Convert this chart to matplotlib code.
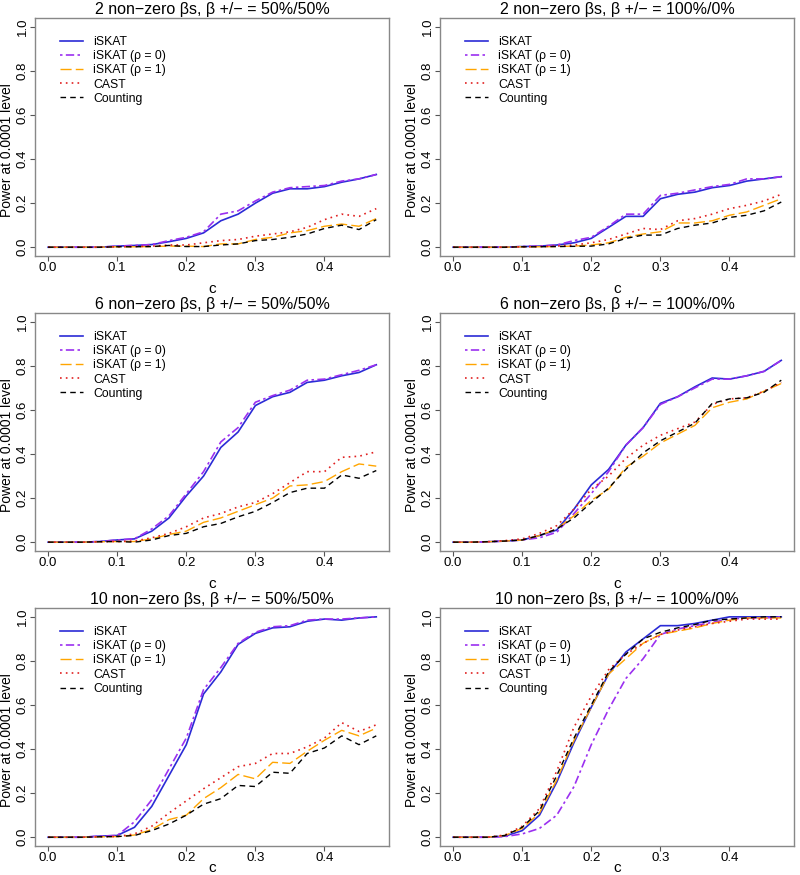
import matplotlib.pyplot as plt
import numpy as np

plt.rcParams['font.family'] = ['Liberation Sans', 'DejaVu Sans']

# c 取值 0 ~ 0.475
c = np.arange(20) * 0.025

titles = ['2 non\u2212zero \u03b2s, \u03b2 +/\u2212 = 50%/50%',
          '2 non\u2212zero \u03b2s, \u03b2 +/\u2212 = 100%/0%',
          '6 non\u2212zero \u03b2s, \u03b2 +/\u2212 = 50%/50%',
          '6 non\u2212zero \u03b2s, \u03b2 +/\u2212 = 100%/0%',
          '10 non\u2212zero \u03b2s, \u03b2 +/\u2212 = 50%/50%',
          '10 non\u2212zero \u03b2s, \u03b2 +/\u2212 = 100%/0%']

methods = ['iSKAT', 'iSKAT (\u03c1 = 0)', 'iSKAT (\u03c1 = 1)', 'CAST', 'Counting']

# 2 non-zero, 50/50
p1_iskat = [0, 0, 0, 0, 0.005, 0.008, 0.012, 0.025, 0.04, 0.065, 0.12, 0.15, 0.2, 0.245, 0.265, 0.265, 0.275, 0.295, 0.31, 0.33]
p1_rho0 = [0, 0, 0, 0, 0.005, 0.008, 0.012, 0.03, 0.045, 0.07, 0.15, 0.165, 0.21, 0.25, 0.27, 0.275, 0.28, 0.3, 0.31, 0.33]
p1_rho1 = [0, 0, 0, 0, 0.002, 0.002, 0.003, 0.005, 0.005, 0.003, 0.015, 0.015, 0.035, 0.045, 0.065, 0.075, 0.095, 0.105, 0.095, 0.13]
p1_cast = [0, 0, 0, 0, 0.002, 0.003, 0.005, 0.01, 0.01, 0.02, 0.03, 0.035, 0.05, 0.06, 0.07, 0.09, 0.125, 0.15, 0.14, 0.175]
p1_count = [0, 0, 0, 0, 0.002, 0.002, 0.003, 0.008, 0.003, 0.003, 0.01, 0.015, 0.03, 0.035, 0.045, 0.06, 0.085, 0.1, 0.08, 0.125]

# 2 non-zero, 100/0
p2_iskat = [0, 0, 0, 0, 0.003, 0.005, 0.01, 0.02, 0.04, 0.09, 0.14, 0.14, 0.22, 0.24, 0.25, 0.27, 0.28, 0.3, 0.31, 0.32]
p2_rho0 = [0, 0, 0, 0, 0.003, 0.005, 0.01, 0.03, 0.045, 0.095, 0.15, 0.15, 0.235, 0.245, 0.26, 0.275, 0.285, 0.31, 0.31, 0.32]
p2_rho1 = [0, 0, 0, 0, 0.002, 0.002, 0.003, 0.005, 0.01, 0.02, 0.045, 0.06, 0.07, 0.11, 0.11, 0.12, 0.145, 0.16, 0.19, 0.22]
p2_cast = [0, 0, 0, 0, 0.002, 0.003, 0.005, 0.01, 0.02, 0.035, 0.06, 0.085, 0.08, 0.12, 0.13, 0.15, 0.175, 0.19, 0.21, 0.24]
p2_count = [0, 0, 0, 0, 0.002, 0.002, 0.003, 0.004, 0.005, 0.015, 0.04, 0.055, 0.055, 0.085, 0.1, 0.11, 0.135, 0.145, 0.165, 0.205]

# 6 non-zero, 50/50
p3_iskat = [0, 0, 0, 0.003, 0.01, 0.015, 0.05, 0.11, 0.21, 0.3, 0.43, 0.5, 0.62, 0.66, 0.68, 0.725, 0.735, 0.755, 0.77, 0.805]
p3_rho0 = [0, 0, 0, 0.003, 0.01, 0.015, 0.06, 0.12, 0.22, 0.32, 0.455, 0.52, 0.635, 0.665, 0.69, 0.735, 0.74, 0.76, 0.78, 0.805]
p3_rho1 = [0, 0, 0, 0.002, 0.003, 0.003, 0.015, 0.035, 0.05, 0.09, 0.11, 0.14, 0.17, 0.2, 0.255, 0.26, 0.275, 0.32, 0.355, 0.345]
p3_cast = [0, 0, 0, 0.002, 0.003, 0.005, 0.02, 0.04, 0.07, 0.11, 0.13, 0.16, 0.18, 0.22, 0.27, 0.32, 0.32, 0.385, 0.39, 0.41]
p3_count = [0, 0, 0, 0.002, 0.003, 0.0, 0.01, 0.03, 0.04, 0.07, 0.085, 0.115, 0.14, 0.18, 0.225, 0.245, 0.245, 0.305, 0.29, 0.325]

# 6 non-zero, 100/0
p4_iskat = [0, 0, 0.002, 0.005, 0.01, 0.03, 0.055, 0.15, 0.26, 0.33, 0.44, 0.52, 0.63, 0.66, 0.705, 0.745, 0.74, 0.755, 0.775, 0.825]
p4_rho0 = [0, 0, 0.002, 0.005, 0.01, 0.02, 0.045, 0.13, 0.22, 0.32, 0.44, 0.52, 0.625, 0.66, 0.7, 0.74, 0.74, 0.755, 0.775, 0.825]
p4_rho1 = [0, 0, 0.002, 0.005, 0.01, 0.03, 0.06, 0.12, 0.19, 0.24, 0.34, 0.39, 0.45, 0.49, 0.53, 0.61, 0.635, 0.65, 0.685, 0.72]
p4_cast = [0, 0, 0.002, 0.007, 0.015, 0.04, 0.075, 0.15, 0.24, 0.3, 0.38, 0.44, 0.485, 0.515, 0.545, 0.625, 0.65, 0.655, 0.685, 0.725]
p4_count = [0, 0, 0.002, 0.005, 0.01, 0.03, 0.06, 0.11, 0.18, 0.245, 0.33, 0.405, 0.46, 0.5, 0.54, 0.63, 0.65, 0.655, 0.68, 0.735]

# 10 non-zero, 50/50
p5_iskat = [0, 0, 0, 0.005, 0.008, 0.045, 0.14, 0.28, 0.42, 0.65, 0.75, 0.875, 0.925, 0.95, 0.955, 0.98, 0.99, 0.985, 0.995, 1.0]
p5_rho0 = [0, 0, 0, 0.005, 0.008, 0.07, 0.17, 0.31, 0.45, 0.67, 0.77, 0.88, 0.93, 0.955, 0.96, 0.985, 0.99, 0.99, 0.995, 1.0]
p5_rho1 = [0, 0, 0, 0.002, 0.003, 0.01, 0.035, 0.08, 0.1, 0.175, 0.225, 0.285, 0.265, 0.34, 0.335, 0.39, 0.44, 0.485, 0.46, 0.495]
p5_cast = [0, 0, 0, 0.002, 0.003, 0.015, 0.05, 0.11, 0.165, 0.22, 0.27, 0.32, 0.335, 0.38, 0.38, 0.41, 0.45, 0.52, 0.48, 0.51]
p5_count = [0, 0, 0, 0.002, 0.003, 0.008, 0.03, 0.06, 0.1, 0.15, 0.175, 0.235, 0.23, 0.295, 0.29, 0.38, 0.405, 0.46, 0.42, 0.46]

# 10 non-zero, 100/0
p6_iskat = [0, 0, 0, 0.005, 0.03, 0.1, 0.25, 0.43, 0.59, 0.74, 0.84, 0.9, 0.96, 0.96, 0.97, 0.985, 1.0, 1.0, 1.0, 1.0]
p6_rho0 = [0, 0, 0, 0.003, 0.015, 0.04, 0.1, 0.23, 0.42, 0.58, 0.72, 0.81, 0.92, 0.945, 0.96, 0.975, 0.99, 0.995, 0.995, 1.0]
p6_rho1 = [0, 0, 0, 0.008, 0.04, 0.11, 0.26, 0.44, 0.59, 0.74, 0.81, 0.88, 0.92, 0.935, 0.95, 0.97, 0.985, 0.995, 0.995, 0.995]
p6_cast = [0, 0, 0, 0.01, 0.05, 0.13, 0.3, 0.5, 0.64, 0.76, 0.83, 0.88, 0.92, 0.94, 0.955, 0.97, 0.98, 0.99, 0.99, 0.99]
p6_count = [0, 0, 0, 0.008, 0.045, 0.12, 0.28, 0.45, 0.6, 0.75, 0.83, 0.9, 0.93, 0.95, 0.965, 0.985, 0.99, 0.995, 1.0, 1.0]

panels = [
    [p1_iskat, p1_rho0, p1_rho1, p1_cast, p1_count],
    [p2_iskat, p2_rho0, p2_rho1, p2_cast, p2_count],
    [p3_iskat, p3_rho0, p3_rho1, p3_cast, p3_count],
    [p4_iskat, p4_rho0, p4_rho1, p4_cast, p4_count],
    [p5_iskat, p5_rho0, p5_rho1, p5_cast, p5_count],
    [p6_iskat, p6_rho0, p6_rho1, p6_cast, p6_count],
]

colors = ['#2b2bd6', '#9b30f0', '#ffa500', '#e02020', 'black']
styles = ['-', (0, (1.5, 2, 5, 2)), (0, (8, 3)), (0, (1, 2.5)), (0, (4, 3))]
widths = [1.2, 1.2, 1.0, 1.2, 1.0]

fig = plt.figure(figsize=(8, 8.75), dpi=100)

lefts = [0.04375, 0.55]
bottoms = [0.7074, 0.3703, 0.0331]
w = 0.443
h = 0.272

for i in range(6):
    row, col = i // 2, i % 2
    ax = fig.add_axes([lefts[col], bottoms[row], w, h])
    for k in range(5):
        ax.plot(c, panels[i][k], color=colors[k], linestyle=styles[k], linewidth=widths[k], label=methods[k])
    ax.set_xlim(-0.019, 0.494)
    ax.set_ylim(-0.04, 1.04)
    ax.set_xticks([0.0, 0.1, 0.2, 0.3, 0.4])
    ax.set_xticklabels(['0.0', '0.1', '0.2', '0.3', '0.4'])
    ax.set_yticks([0.0, 0.2, 0.4, 0.6, 0.8, 1.0])
    ax.set_yticklabels(['0.0', '0.2', '0.4', '0.6', '0.8', '1.0'], rotation=90, va='center')
    ax.tick_params(labelsize=9.5, color='#555555', length=3.5, pad=1)
    for s in ax.spines.values():
        s.set_color('#888888')
        s.set_linewidth(1)
    ax.set_title(titles[i], fontsize=11.5, pad=3)
    ax.set_xlabel('c', fontsize=11)
    if row == 2:
        # 最下面一行贴着图的底边
        ax.xaxis.label.set_va('bottom')
        ax.xaxis.set_label_coords(0.5, -0.121)
    else:
        ax.xaxis.set_label_coords(0.5, -0.11)
    ax.set_ylabel('Power at 0.0001 level', fontsize=10)
    ax.yaxis.label.set_va('top')
    ax.yaxis.set_label_coords(-0.098, 0.445)
    ax.legend(loc='upper left', bbox_to_anchor=(0.06, 0.94), frameon=False, fontsize=8.8,
              handlelength=1.9, labelspacing=0.18, handletextpad=0.8, borderpad=0.3, borderaxespad=0)

plt.savefig('out.png', dpi=100)
